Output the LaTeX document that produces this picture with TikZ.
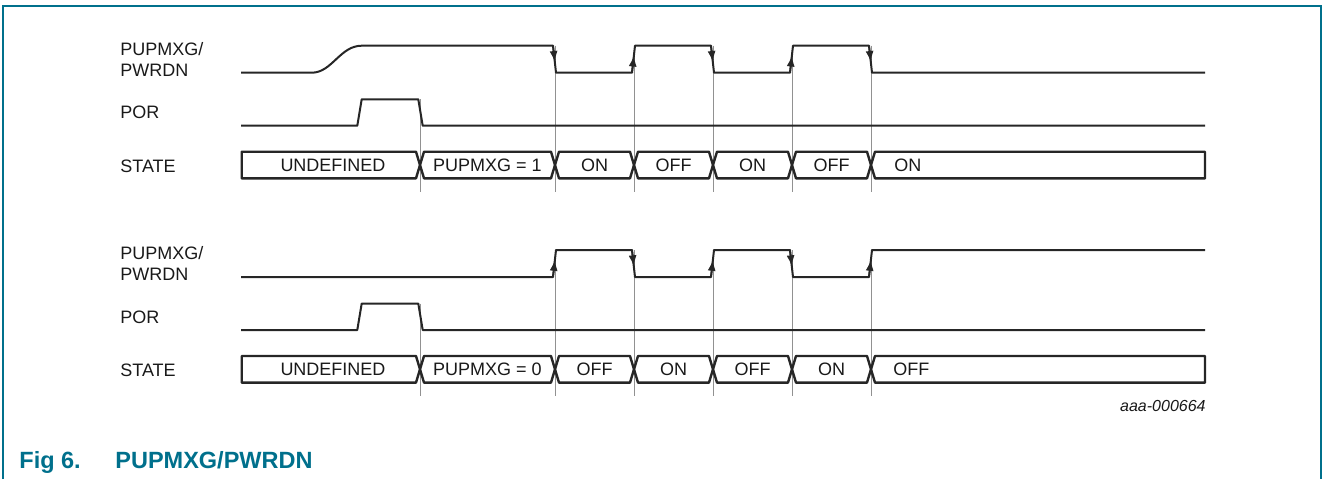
\documentclass[tikz,border=0pt]{standalone}
\usepackage{fontspec}
\setmainfont{Liberation Sans}
\usetikzlibrary{
	positioning
	,arrows.meta
}
\definecolor{figteal}{RGB}{0,112,140}
\definecolor{guidegray}{RGB}{145,145,145}
\tikzset{
	sig/.style={
		line width=1pt
		,black!85
		,line join=round
	}
	,busline/.style={
		line width=1.2pt
		,black!85
		,line join=round
	}
	,guide/.style={
		line width=0.5pt
		,guidegray
	}
	,edgetip/.style={
		-{Latex[length=5.5pt,width=4pt]}
		,line width=0.8pt
		,black!85
	}
}
\tikzset{
	lbl/.style={
		anchor=west
		,inner sep=0pt
		,font=\fontsize{9pt}{10.5pt}\selectfont
		,text=black!90
		,align=left
	}
	,statetxt/.style={
		lbl
		,anchor=center
	}
	,caption/.style={
		anchor=base west
		,inner sep=0pt
		,font=\fontsize{11.75pt}{14pt}\selectfont\bfseries
		,text=figteal
	}
}
% one state field of the bus, between two crossings
\newcommand{\busfield}[2]{
	\draw[busline] (#1,165) -- (#1+4,151.7) -- (#2-4,151.7) -- (#2,165) -- (#2-4,178.3) -- (#1+4,178.3) -- cycle;
}

\begin{document}
\begin{tikzpicture}[x=0.5pt, y=-0.5pt]
\useasboundingbox (0,0) rectangle (1324,479);
\draw[figteal, line width=1pt] (2.7,479) -- (2.7,6) -- (1321,6) -- (1321,479);

% power-up with PUPMXG = 1
\begin{scope}
\node[lbl] (pwrA) at (120,59.5) {PUPMXG/\\PWRDN};
\node[lbl] (porA) at (120,112.7) {POR};
\node[lbl] (stateA) at (120,166) {STATE};
\foreach \e in {555,634,713,792,871}
	\draw[guide] (\e,45.7) -- (\e,191.7);
\draw[guide] (420,99.3) -- (420,191.7);
\draw[sig] (241,72.7) -- (311.7,72.7) .. controls (332,72.7) and (340,45.7) .. (361.7,45.7)
	-- (553,45.7) -- (556,72.7) -- (632,72.7) -- (635,45.7) -- (711,45.7) -- (714,72.7)
	-- (790,72.7) -- (793,45.7) -- (869,45.7) -- (872,72.7) -- (1205,72.7);
\foreach \e in {555,713,871}
	\draw[edgetip] (\e-2,45.7) -- (\e-0.2,62);
\foreach \e in {634,792}
	\draw[edgetip] (\e-2,72.7) -- (\e-0.1,55.5);
\draw[sig] (241,125.7) -- (357.3,125.7) -- (361.7,99.3) -- (418.3,99.3) -- (422.7,125.7) -- (1205,125.7);
\draw[busline] (241.7,151.7) -- (416,151.7) -- (420,165) -- (416,178.3) -- (241.7,178.3) -- cycle;
\busfield{420}{555}
\busfield{555}{634}
\busfield{634}{713}
\busfield{713}{792}
\busfield{792}{871}
\draw[busline] (871,165) -- (875,151.7) -- (1205,151.7) -- (1205,178.3) -- (875,178.3) -- cycle;
\node[statetxt] (undefA) at (333,165) {UNDEFINED};
\node[statetxt] (pupA) at (487.5,165) {PUPMXG = 1};
\node[statetxt] (s1A) at (594.5,165) {ON};
\node[statetxt] (s2A) at (673.5,165) {OFF};
\node[statetxt] (s3A) at (752.5,165) {ON};
\node[statetxt] (s4A) at (831.5,165) {OFF};
\node[lbl] (s5A) at (894,165) {ON};
\end{scope}

% power-up with PUPMXG = 0
\begin{scope}[shift={(0,204.3)}]
\node[lbl] (pwrB) at (120,59.5) {PUPMXG/\\PWRDN};
\node[lbl] (porB) at (120,112.7) {POR};
\node[lbl] (stateB) at (120,166) {STATE};
\foreach \e in {555,634,713,792,871}
	\draw[guide] (\e,45.7) -- (\e,191.7);
\draw[guide] (420,99.3) -- (420,191.7);
\draw[sig] (241,72.7) -- (553,72.7) -- (556,45.7) -- (632,45.7) -- (635,72.7) -- (711,72.7)
	-- (714,45.7) -- (790,45.7) -- (793,72.7) -- (869,72.7) -- (872,45.7) -- (1205,45.7);
\foreach \e in {634,792}
	\draw[edgetip] (\e-2,45.7) -- (\e-0.2,62);
\foreach \e in {555,713,871}
	\draw[edgetip] (\e-2,72.7) -- (\e-0.1,55.5);
\draw[sig] (241,125.7) -- (357.3,125.7) -- (361.7,99.3) -- (418.3,99.3) -- (422.7,125.7) -- (1205,125.7);
\draw[busline] (241.7,151.7) -- (416,151.7) -- (420,165) -- (416,178.3) -- (241.7,178.3) -- cycle;
\busfield{420}{555}
\busfield{555}{634}
\busfield{634}{713}
\busfield{713}{792}
\busfield{792}{871}
\draw[busline] (871,165) -- (875,151.7) -- (1205,151.7) -- (1205,178.3) -- (875,178.3) -- cycle;
\node[statetxt] (undefB) at (333,165) {UNDEFINED};
\node[statetxt] (pupB) at (487.5,165) {PUPMXG = 0};
\node[statetxt] (s1B) at (594.5,165) {OFF};
\node[statetxt] (s2B) at (673.5,165) {ON};
\node[statetxt] (s3B) at (752.5,165) {OFF};
\node[statetxt] (s4B) at (831.5,165) {ON};
\node[lbl] (s5B) at (893,165) {OFF};
\end{scope}

\node[anchor=east, inner sep=0pt, font=\fontsize{8pt}{9.6pt}\selectfont\itshape, text=black!90] (figid) at (1206,405.5) {aaa-000664};
\node[caption] (fignum) at (19,468.5) {Fig 6.};
\node[caption] (figtitle) at (115,468.5) {PUPMXG/PWRDN};
\end{tikzpicture}
\end{document}
